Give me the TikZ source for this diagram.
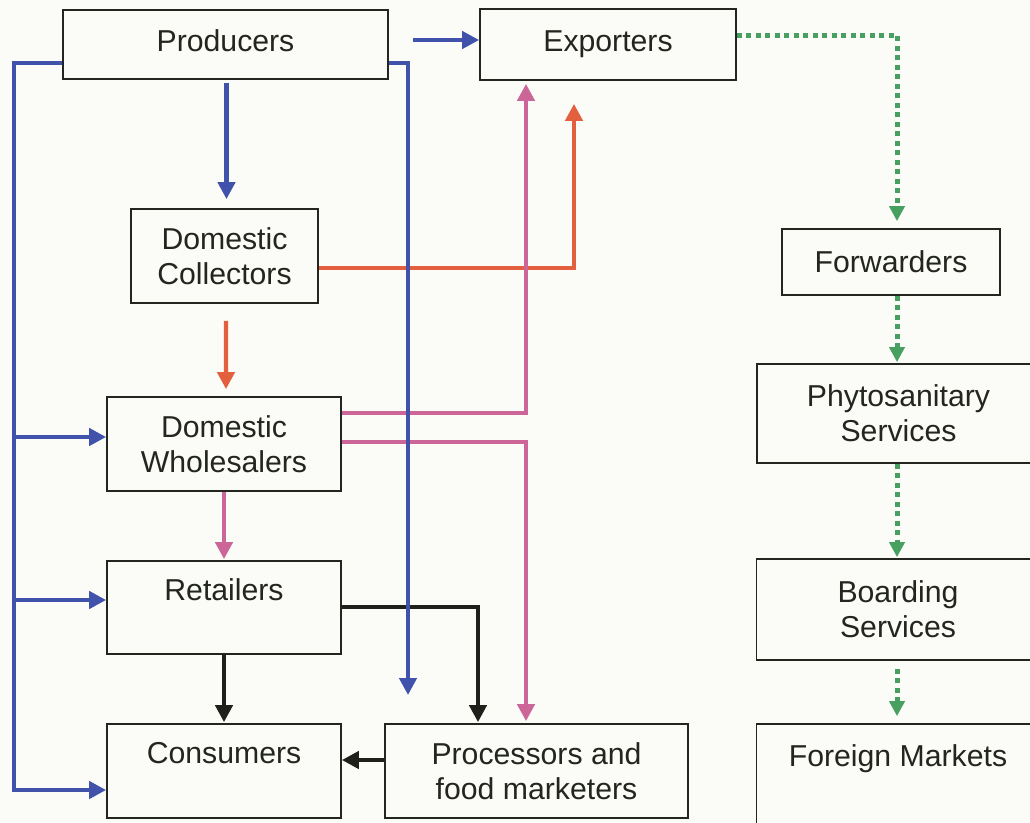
\documentclass[tikz,border=0pt]{standalone}
\usepackage{fontspec}
\setmainfont{Liberation Sans}
\usetikzlibrary{arrows.meta,calc}
\definecolor{bg}{RGB}{251,251,248}
\definecolor{ink}{RGB}{35,38,30}
\definecolor{cblue}{RGB}{64,82,170}
\definecolor{cred}{RGB}{226,96,62}
\definecolor{cpink}{RGB}{204,102,152}
\definecolor{cgreen}{RGB}{72,160,96}
\definecolor{cblack}{RGB}{30,32,25}
\tikzset{
  box/.style={draw=ink, line width=1pt, rectangle, align=center, inner sep=0pt,
    font=\fontsize{17.2}{20}\selectfont, text=ink},
  flow/.style={line width=0.085cm, -{Triangle[width=0.34cm,length=0.34cm]}},
  gflow/.style={cgreen, line width=0.1cm, dash pattern=on 0.1cm off 0.09cm,
    -{Triangle[width=0.3cm,length=0.3cm]}}
}
\begin{document}
\begin{tikzpicture}[x=0.02cm,y=-0.02cm]
\fill[bg] (0,0) rectangle (1030,822);
\useasboundingbox (0,0) rectangle (1030,822);
\clip (0,0) rectangle (1030,822);

% nodes
\node[box, minimum width=6.5cm, minimum height=1.38cm, text depth=5pt] (prod) at (225.5,44.5) {Producers};
\node[box, minimum width=5.12cm, minimum height=1.42cm] (exp) at (608,44.5) {Exporters};
\node[box, minimum width=3.74cm, minimum height=1.88cm] (coll) at (224.5,256) {Domestic\\Collectors};
\node[box, minimum width=4.68cm, minimum height=1.88cm] (whole) at (224,444) {Domestic\\Wholesalers};
\node[box, minimum width=4.68cm, minimum height=1.86cm] (ret) at (224,607.5) {Retailers\\[-6pt]\strut};
\node[box, minimum width=4.68cm, minimum height=1.88cm] (cons) at (224,771) {Consumers\\[-6pt]\strut};
\node[box, minimum width=6.06cm, minimum height=1.88cm] (proc) at (536.5,771) {Processors and\\food marketers};
\node[box, minimum width=4.36cm, minimum height=1.32cm] (fwd) at (891,262) {Forwarders};
\node[box, minimum width=5.9cm, minimum height=1.98cm] (phy) at (904.5,413.5) {\hspace*{-0.24cm}Phytosanitary\\\hspace*{-0.24cm}Services};
\node[box, minimum width=5.9cm, minimum height=2.02cm] (board) at (904,609.5) {\hspace*{-0.24cm}Boarding\\\hspace*{-0.24cm}Services};
\node[box, minimum width=5.9cm, minimum height=2.12cm] (frgn) at (904,777) {\hspace*{-0.24cm}Foreign Markets\\[-2pt]\strut};

\coordinate (blueEnd) at (408,695);

% black
\draw[cblack, flow] (ret.south) -- ($(cons.north)+(0,-1)$);
\draw[cblack, flow] ($(ret.east)+(0,-0.5)$) -| ($(proc.north)+(-58.5,-1)$);
\draw[cblack, flow] ($(proc.west)+(0,-11)$) -- ($(cons.east)+(0,-11)$);

% red
\draw[cred, flow] ($(coll.east)+(0,12)$) -| ($(exp.south)+(-34,23)$);
\draw[cred, flow] ($(coll.south)+(1.5,17)$) -- ($(whole.north)+(2,-7)$);

% pink
\draw[cpink, flow] ($(whole.east)+(0,-31)$) -| ($(exp.south)+(-82,3)$);
\draw[cpink, flow] ($(whole.east)+(0,-2)$) -| ($(proc.north)+(-10.5,-2)$);
\draw[cpink, flow] (whole.south) -- ($(ret.north)+(0,-1)$);

% blue
\draw[cblue, flow] ($(prod.east)+(24,-4.5)$) -- ($(exp.west)+(0,-4.5)$);
\draw[cblue, flow] ($(prod.south)+(1,3)$) -- ($(coll.north)+(2,-9)$);
\draw[cblue, flow] ($(prod.west)+(0,18.5)$) -| ($(cons.west)+(-92,19)$) -- ($(cons.west)+(0,19)$);
\draw[cblue, flow] ($(whole.west)+(-92,-7)$) -- ($(whole.west)+(0,-7)$);
\draw[cblue, flow] ($(ret.west)+(-92,-7.5)$) -- ($(ret.west)+(0,-7.5)$);
\draw[cblue, flow] ($(prod.east)+(0,18.5)$) -| (blueEnd);

% green
\draw[gflow] ($(exp.east)+(0,-9.5)$) -| ($(fwd.north)+(6,-7)$);
\draw[gflow] ($(fwd.south)+(6,0)$) -- ($(phy.north)+(-7.5,-1)$);
\draw[gflow] ($(phy.south)+(-7.5,0)$) -- ($(board.north)+(-7,-1)$);
\draw[gflow] ($(board.south)+(-7,8)$) -- ($(frgn.north)+(-7,-7)$);
\end{tikzpicture}
\end{document}
